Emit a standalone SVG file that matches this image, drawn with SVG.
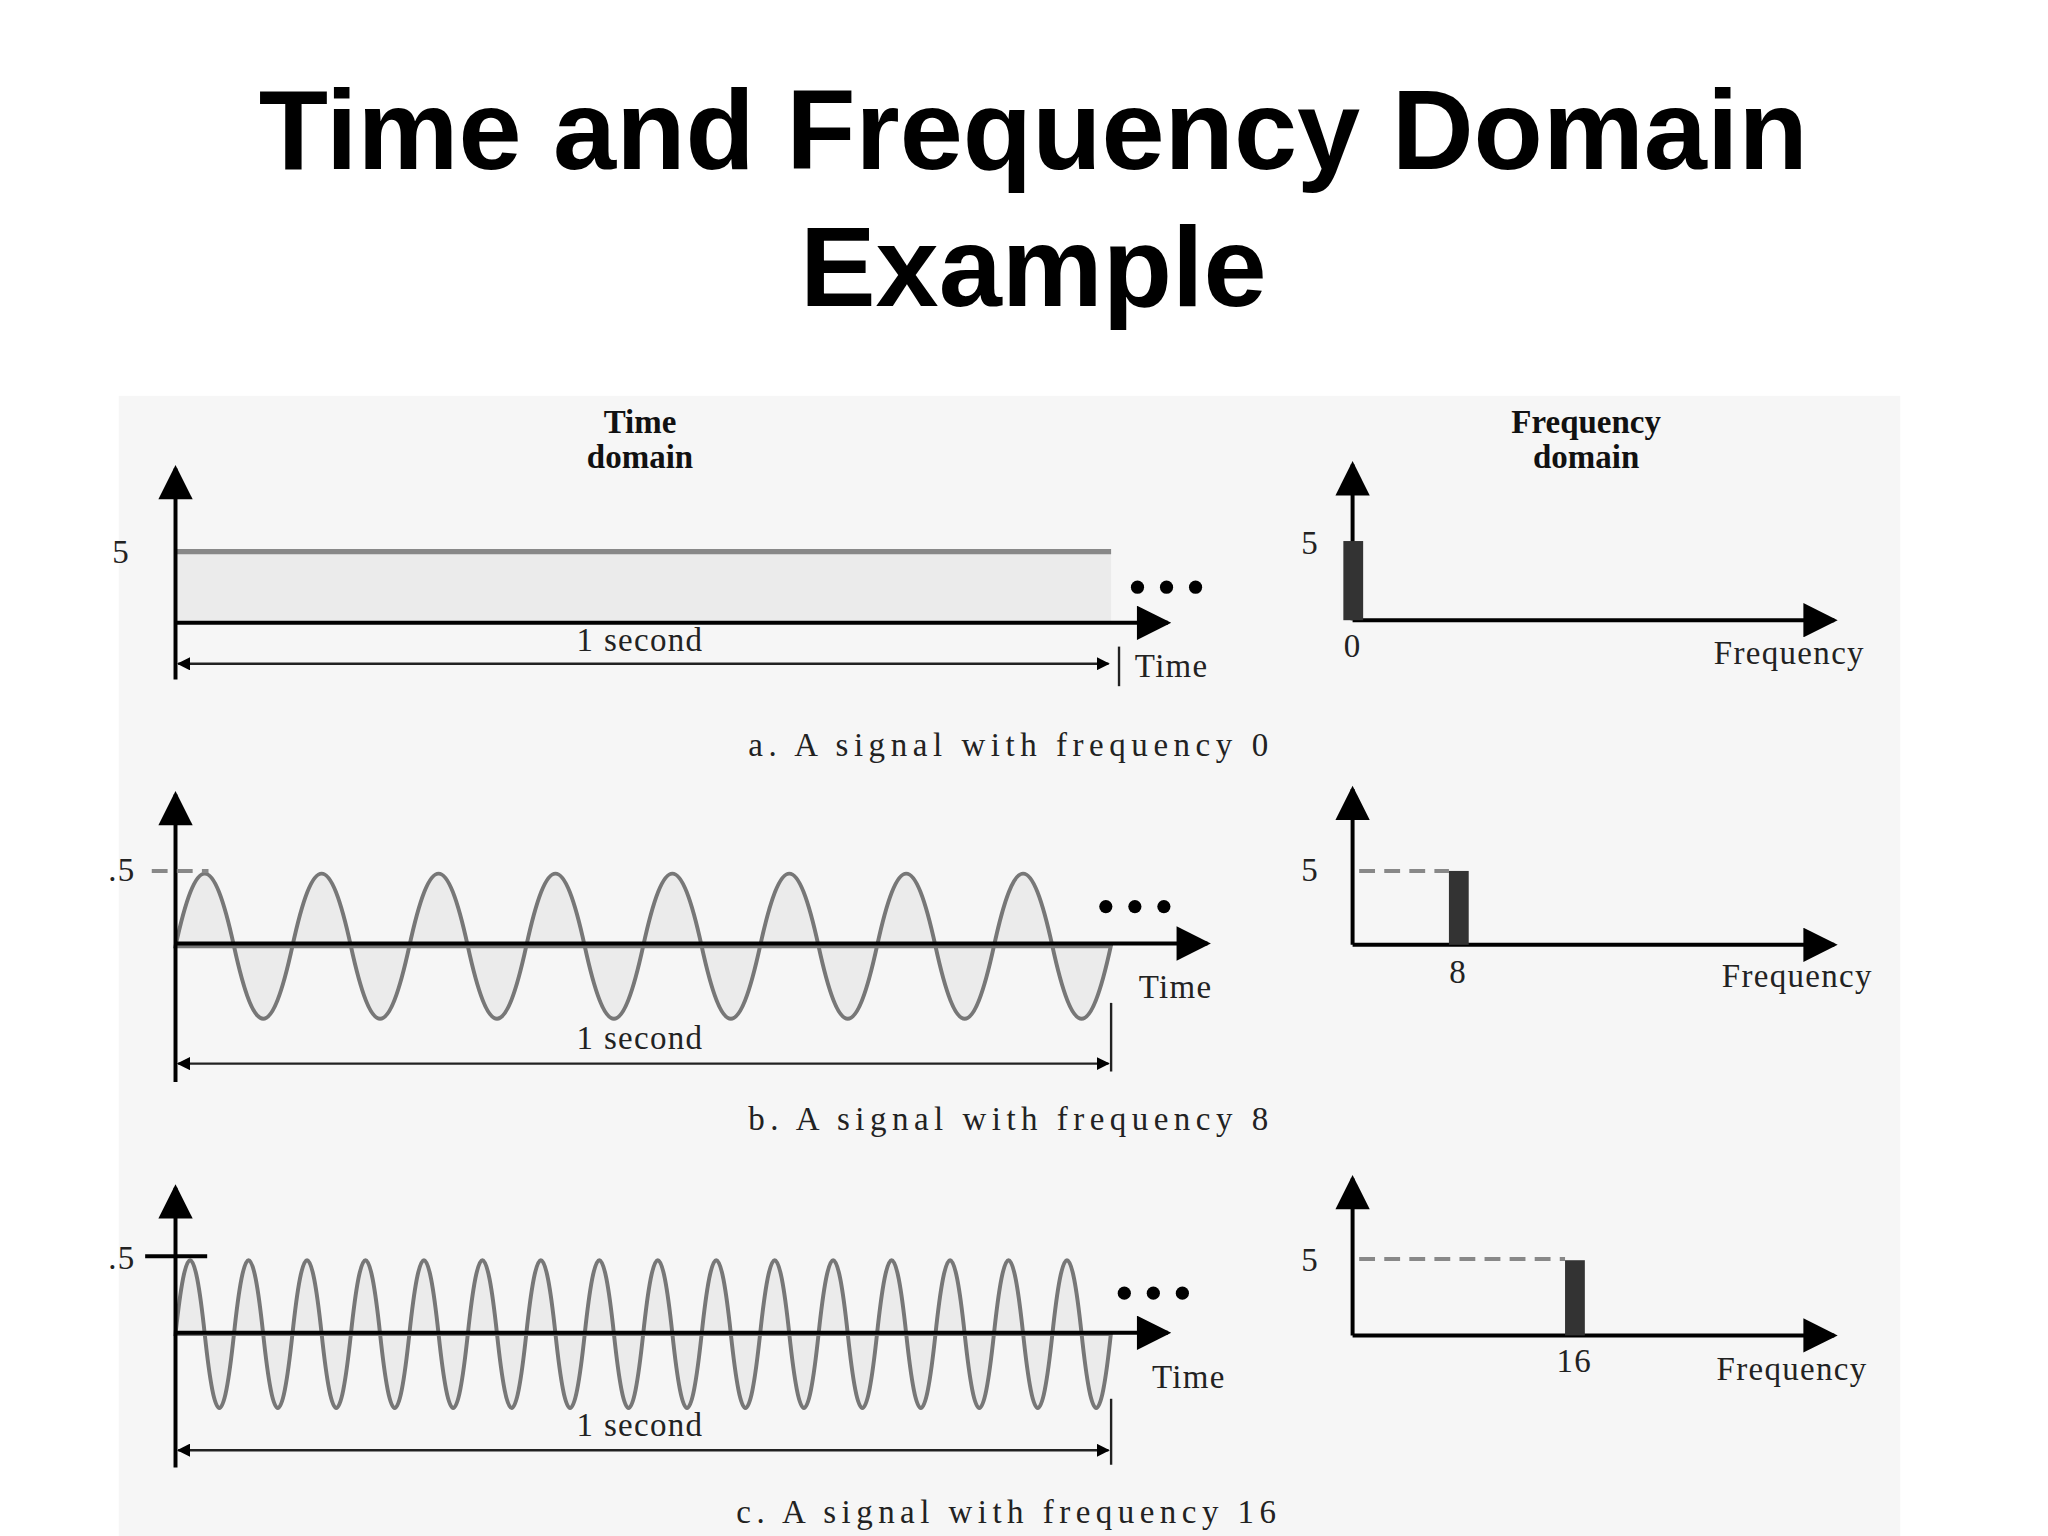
<svg xmlns="http://www.w3.org/2000/svg" width="2048" height="1536" viewBox="0 0 2048 1536">
<style>
.ttl{font-family:"Liberation Sans",Arial,sans-serif;font-weight:bold;font-size:86px;text-anchor:middle;fill:#000}
.lb{font-family:"Liberation Serif","Times New Roman",serif;font-size:25px;fill:#222;letter-spacing:1px}
.hd{font-family:"Liberation Serif","Times New Roman",serif;font-size:25px;font-weight:bold;fill:#111;text-anchor:middle}
.ax{stroke:#000;stroke-width:3;fill:none}
.dim{stroke:#222;stroke-width:1.8;fill:none}
.sig{stroke:#777;stroke-width:3;fill:#ebebeb}
.dash{stroke:#888;stroke-width:3;stroke-dasharray:12 7;fill:none}
.bar{fill:#333}
.mid{text-anchor:middle}
</style>
<defs>
<marker id="ah" viewBox="0 0 10 10" refX="9" refY="5" markerWidth="10" markerHeight="10" markerUnits="userSpaceOnUse" orient="auto-start-reverse"><path d="M0,0L10,5L0,10z" fill="#000"/></marker>
<marker id="big" viewBox="0 0 10 10" refX="9" refY="5" markerWidth="28" markerHeight="26" markerUnits="userSpaceOnUse" orient="auto"><path d="M0,0L10,5L0,10z" fill="#000"/></marker>
</defs>
<rect width="2048" height="1536" fill="#fff"/>
<g transform="scale(1.3196)">
<rect x="90" y="300" width="1350" height="876" fill="#f6f6f6"/>
<text class="ttl" x="783" y="128">Time and Frequency Domain</text>
<text class="ttl" x="783" y="232">Example</text>
<g id="headers">
<text class="hd" x="485" y="328">Time</text><text class="hd" x="485" y="355">domain</text>
<text class="hd" x="1202" y="328">Frequency</text><text class="hd" x="1202" y="355">domain</text>
</g>
<g id="row-a">
<rect x="133" y="418" width="709" height="54" fill="#ebebeb"/>
<line x1="133" y1="418" x2="842" y2="418" stroke="#888" stroke-width="4"/>
<line class="ax" x1="133" y1="515" x2="133" y2="355" marker-end="url(#big)"/>
<line class="ax" x1="133" y1="472" x2="885" y2="472" marker-end="url(#big)"/>
<text class="lb" x="85" y="427">5</text>
<g fill="#000"><circle cx="862" cy="445" r="5"/><circle cx="884" cy="445" r="5"/><circle cx="906" cy="445" r="5"/></g>
<line class="dim" x1="135" y1="503" x2="840" y2="503" marker-start="url(#ah)" marker-end="url(#ah)"/>
<line class="dim" x1="848" y1="490" x2="848" y2="520"/>
<text class="lb mid" x="485" y="493">1 second</text>
<text class="lb" x="860" y="513">Time</text>
<line class="ax" x1="1025" y1="470" x2="1025" y2="352" marker-end="url(#big)"/>
<line class="ax" x1="1025" y1="470" x2="1390" y2="470" marker-end="url(#big)"/>
<rect class="bar" x="1018" y="410" width="15" height="60"/>
<text class="lb" x="986" y="420">5</text>
<text class="lb mid" x="1025" y="498">0</text>
<text class="lb mid" x="1356" y="503">Frequency</text>
<text class="lb" x="567" y="573" textLength="395">a. A signal with frequency 0</text>
</g>
<g id="row-b">
<path class="sig" d="M133,717 c16,-73.3 28.3,-73.3 44.3,0 c16,73.3 28.3,73.3 44.3,0 c16,-73.3 28.3,-73.3 44.3,0 c16,73.3 28.3,73.3 44.3,0 c16,-73.3 28.3,-73.3 44.3,0 c16,73.3 28.3,73.3 44.3,0 c16,-73.3 28.3,-73.3 44.3,0 c16,73.3 28.3,73.3 44.3,0 c16,-73.3 28.3,-73.3 44.3,0 c16,73.3 28.3,73.3 44.3,0 c16,-73.3 28.3,-73.3 44.3,0 c16,73.3 28.3,73.3 44.3,0 c16,-73.3 28.3,-73.3 44.3,0 c16,73.3 28.3,73.3 44.3,0 c16,-73.3 28.3,-73.3 44.3,0 c16,73.3 28.3,73.3 44.3,0 z"/>
<line class="ax" x1="133" y1="820" x2="133" y2="602" marker-end="url(#big)"/>
<line class="ax" x1="133" y1="715" x2="915" y2="715" marker-end="url(#big)"/>
<line class="dash" x1="115" y1="660" x2="158" y2="660"/>
<text class="lb" x="82" y="668">.5</text>
<g fill="#000"><circle cx="838" cy="687" r="5"/><circle cx="860" cy="687" r="5"/><circle cx="882" cy="687" r="5"/></g>
<line class="dim" x1="135" y1="806" x2="840" y2="806" marker-start="url(#ah)" marker-end="url(#ah)"/>
<line class="dim" x1="842" y1="760" x2="842" y2="812"/>
<text class="lb mid" x="485" y="795">1 second</text>
<text class="lb" x="863" y="756">Time</text>
<line class="ax" x1="1025" y1="716" x2="1025" y2="598" marker-end="url(#big)"/>
<line class="ax" x1="1025" y1="716" x2="1390" y2="716" marker-end="url(#big)"/>
<line class="dash" x1="1030" y1="660" x2="1098" y2="660"/>
<rect class="bar" x="1098" y="660" width="15" height="56"/>
<text class="lb" x="986" y="668">5</text>
<text class="lb mid" x="1105" y="745">8</text>
<text class="lb mid" x="1362" y="748">Frequency</text>
<text class="lb" x="567" y="856" textLength="395">b. A signal with frequency 8</text>
</g>
<g id="row-c">
<path class="sig" d="M133,1011 c8,-74.7 14.15,-74.7 22.15,0 c8,74.7 14.15,74.7 22.15,0 c8,-74.7 14.15,-74.7 22.15,0 c8,74.7 14.15,74.7 22.15,0 c8,-74.7 14.15,-74.7 22.15,0 c8,74.7 14.15,74.7 22.15,0 c8,-74.7 14.15,-74.7 22.15,0 c8,74.7 14.15,74.7 22.15,0 c8,-74.7 14.15,-74.7 22.15,0 c8,74.7 14.15,74.7 22.15,0 c8,-74.7 14.15,-74.7 22.15,0 c8,74.7 14.15,74.7 22.15,0 c8,-74.7 14.15,-74.7 22.15,0 c8,74.7 14.15,74.7 22.15,0 c8,-74.7 14.15,-74.7 22.15,0 c8,74.7 14.15,74.7 22.15,0 c8,-74.7 14.15,-74.7 22.15,0 c8,74.7 14.15,74.7 22.15,0 c8,-74.7 14.15,-74.7 22.15,0 c8,74.7 14.15,74.7 22.15,0 c8,-74.7 14.15,-74.7 22.15,0 c8,74.7 14.15,74.7 22.15,0 c8,-74.7 14.15,-74.7 22.15,0 c8,74.7 14.15,74.7 22.15,0 c8,-74.7 14.15,-74.7 22.15,0 c8,74.7 14.15,74.7 22.15,0 c8,-74.7 14.15,-74.7 22.15,0 c8,74.7 14.15,74.7 22.15,0 c8,-74.7 14.15,-74.7 22.15,0 c8,74.7 14.15,74.7 22.15,0 c8,-74.7 14.15,-74.7 22.15,0 c8,74.7 14.15,74.7 22.15,0 z"/>
<line class="ax" x1="133" y1="1112" x2="133" y2="900" marker-end="url(#big)"/>
<line class="ax" x1="133" y1="1010" x2="885" y2="1010" marker-end="url(#big)"/>
<line class="ax" x1="110" y1="952" x2="157" y2="952"/>
<text class="lb" x="82" y="962">.5</text>
<g fill="#000"><circle cx="852" cy="980" r="5"/><circle cx="874" cy="980" r="5"/><circle cx="896" cy="980" r="5"/></g>
<line class="dim" x1="135" y1="1099" x2="840" y2="1099" marker-start="url(#ah)" marker-end="url(#ah)"/>
<line class="dim" x1="842" y1="1060" x2="842" y2="1110"/>
<text class="lb mid" x="485" y="1088">1 second</text>
<text class="lb" x="873" y="1052">Time</text>
<line class="ax" x1="1025" y1="1012" x2="1025" y2="893" marker-end="url(#big)"/>
<line class="ax" x1="1025" y1="1012" x2="1390" y2="1012" marker-end="url(#big)"/>
<line class="dash" x1="1030" y1="954" x2="1186" y2="954"/>
<rect class="bar" x="1186" y="955" width="15" height="57"/>
<text class="lb" x="986" y="963">5</text>
<text class="lb mid" x="1193" y="1040">16</text>
<text class="lb mid" x="1358" y="1046">Frequency</text>
<text class="lb" x="558" y="1154" textLength="410">c. A signal with frequency 16</text>
</g>
</g>
</svg>
